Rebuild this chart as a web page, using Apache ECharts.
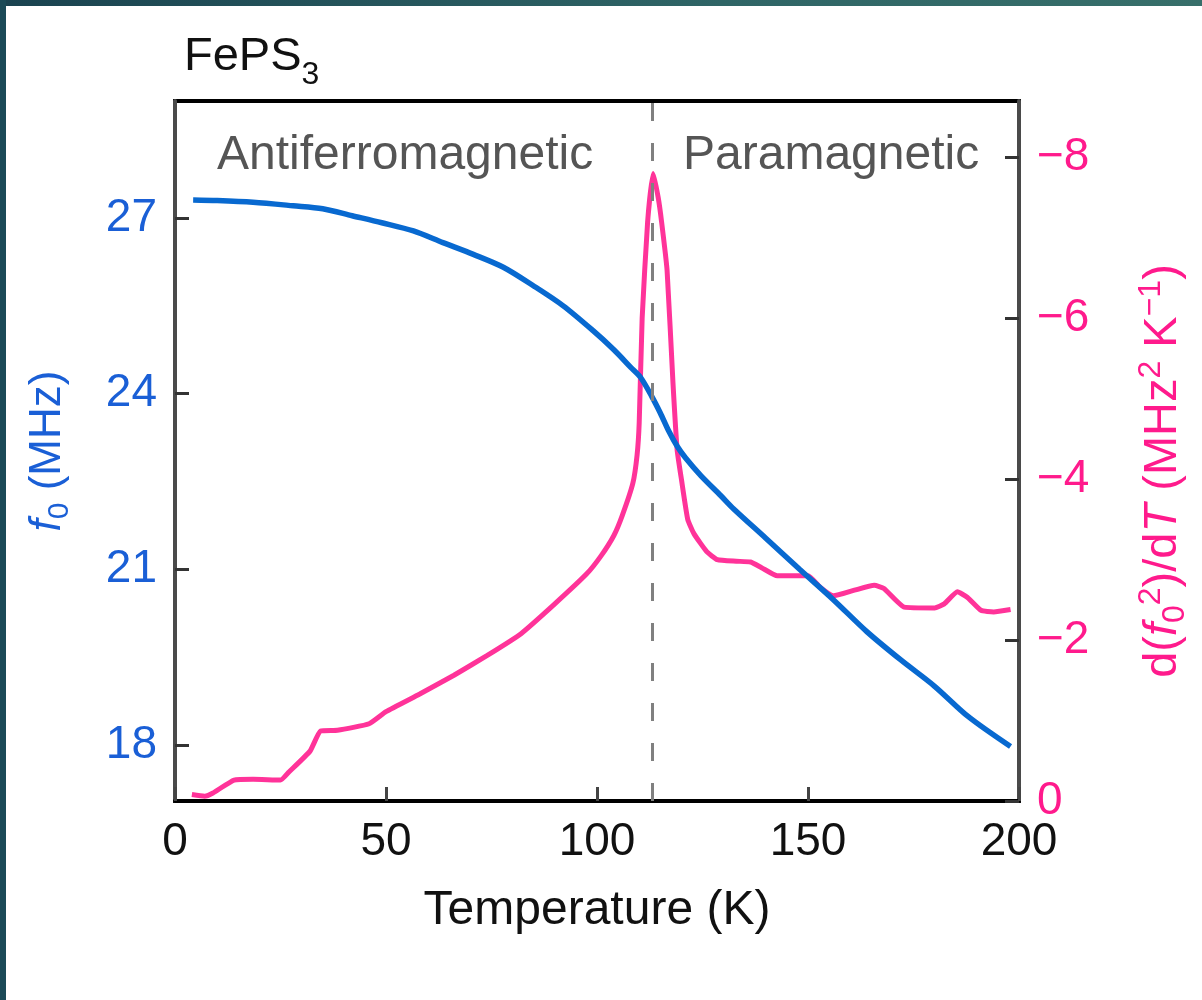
<!DOCTYPE html>
<html>
<head>
<meta charset="utf-8">
<script src="https://cdn.jsdelivr.net/npm/echarts@6/dist/echarts.min.js"></script>
<style>
  html, body { margin: 0; padding: 0; background: #fff; }
  #chart { position: absolute; left: 0; top: 0; width: 1202px; height: 1000px; }
  #topbar { position: absolute; left: 0; top: 0; width: 1202px; height: 6px; background: linear-gradient(to right, #1a4350, #2f6566 60%, #376f6a); }
  #leftbar { position: absolute; left: 0; top: 0; width: 6px; height: 1000px; background: #1b4a57; }
</style>
</head>
<body>
<div id="chart"></div>
<div id="topbar"></div>
<div id="leftbar"></div>
<script>
// Resonance frequency f0 (MHz) vs temperature (K)
const tempF = [4.3, 10, 18.5, 28, 35, 42, 49, 56.5, 63.5, 70.7, 77.8, 85, 92, 99, 104, 108, 110.3, 113, 115, 117, 119, 121, 124.6, 129.3, 132.4, 140, 148, 156, 164, 172, 180, 188, 198];
const freqMHz = [27.31, 27.30, 27.27, 27.21, 27.16, 27.04, 26.92, 26.78, 26.58, 26.38, 26.16, 25.84, 25.50, 25.08, 24.75, 24.45, 24.28, 23.95, 23.67, 23.36, 23.10, 22.90, 22.60, 22.26, 22.03, 21.53, 21.00, 20.48, 19.93, 19.45, 19.00, 18.48, 17.97];

// d(f0^2)/dT (MHz^2 K^-1) vs temperature (K)
const tempD = [4, 7, 9, 14, 18.5, 25, 27, 32, 34.5, 38.5, 46, 50, 58, 66, 74, 82, 90, 97.5, 101, 104, 106, 108.5, 109.5, 110, 110.7, 112, 113.3, 114.5, 115.3, 116.6, 118, 119, 120, 121.5, 123, 126, 128.5, 133, 136.4, 139, 142.7, 150, 153, 156, 161, 165.7, 168, 172.8, 180, 182.3, 185.4, 187.8, 191, 194, 198];
const dF2dT = [-0.08, -0.06, -0.10, -0.26, -0.27, -0.26, -0.36, -0.62, -0.87, -0.88, -0.96, -1.11, -1.33, -1.56, -1.81, -2.08, -2.45, -2.82, -3.05, -3.30, -3.55, -3.95, -4.30, -4.70, -6.00, -7.20, -7.80, -7.50, -7.20, -6.60, -5.20, -4.36, -4.00, -3.50, -3.32, -3.10, -3.00, -2.98, -2.97, -2.90, -2.80, -2.80, -2.65, -2.55, -2.62, -2.68, -2.64, -2.41, -2.40, -2.45, -2.60, -2.53, -2.37, -2.35, -2.38];

// Axis ticks
const xTicks = [0, 50, 100, 150, 200];
const fTicks = [18, 21, 24, 27];
const dTicks = [-8, -6, -4, -2, 0];
const transitionT = 113.2;

const blue = '#0869d0';
const blueText = '#1a5fd6';
const pink = '#ff3399';
const pinkText = '#ff1a8c';
const FONT = 'Liberation Sans, Arial, sans-serif';

const chart = echarts.init(document.getElementById('chart'));

const option = {
  animation: false,
  backgroundColor: '#fff',
  grid: { left: 175, right: 183, top: 101, bottom: 199, show: true, borderColor: '#000', borderWidth: 4, backgroundColor: 'transparent' },
  graphic: [
    { type: 'text', left: 184, top: 34, style: { text: '{m|FePS}{s|3}', rich: { m: { fontSize: 47, fontFamily: FONT, fill: '#111', verticalAlign: 'bottom', lineHeight: 58 }, s: { fontSize: 32, fontFamily: FONT, fill: '#111', verticalAlign: 'bottom', lineHeight: 58, padding: [0,0,-10,0] } } } },
    { type: 'text', left: 217, top: 132, style: { text: 'Antiferromagnetic', fontSize: 48, fontFamily: FONT, fill: '#555' } },
    { type: 'text', left: 683, top: 132, style: { text: 'Paramagnetic', fontSize: 48, fontFamily: FONT, fill: '#555' } }
  ],
  xAxis: {
    type: 'value', min: 0, max: 200, interval: 50,
    name: 'Temperature (K)', nameLocation: 'middle', nameGap: 86,
    nameTextStyle: { fontSize: 48, fontFamily: FONT, color: '#111' },
    axisLine: { show: true, lineStyle: { color: '#000', width: 4 } },
    axisTick: { show: true, inside: true, length: 14, lineStyle: { color: '#444', width: 3 } },
    axisLabel: { fontSize: 46, fontFamily: FONT, color: '#111', margin: 18 },
    splitLine: { show: false }
  },
  yAxis: [
    {
      type: 'value', min: 17.04, max: 29.0, position: 'left',
      name: '{i|f}{sub|0}{n| (MHz)}', nameLocation: 'middle', nameGap: 100, nameRotate: 90,
      nameTextStyle: {
        color: blueText,
        rich: {
          i: { fontSize: 44, fontStyle: 'italic', fontFamily: FONT, color: blueText, lineHeight: 54, verticalAlign: 'middle' },
          sub: { fontSize: 30, fontFamily: FONT, color: blueText, lineHeight: 54, verticalAlign: 'bottom' },
          n: { fontSize: 44, fontFamily: FONT, color: blueText, lineHeight: 54, verticalAlign: 'middle' }
        }
      },
      axisLine: { show: true, lineStyle: { color: '#4a4a4a', width: 4 } },
      axisTick: { show: true, inside: true, length: 14, customValues: fTicks, lineStyle: { color: '#333', width: 3 } },
      axisLabel: { fontSize: 46, fontFamily: FONT, color: blueText, margin: 18, customValues: fTicks },
      splitLine: { show: false }
    },
    {
      type: 'value', min: -8.7, max: 0, inverse: true, position: 'right',
      name: '{n|d(}{i|f}{sub|0}{sup|2}{n|)/d}{i|T}{n| (MHz}{sup|2}{n| K}{sup|\u22121}{n|)}',
      nameLocation: 'middle', nameGap: 116, nameRotate: 90,
      nameTextStyle: {
        color: pinkText,
        padding: [0, 40, 0, 0],
        rich: {
          i: { fontSize: 47, fontStyle: 'italic', fontFamily: FONT, color: pinkText, lineHeight: 56, verticalAlign: 'middle' },
          n: { fontSize: 47, fontFamily: FONT, color: pinkText, lineHeight: 56, verticalAlign: 'middle' },
          sub: { fontSize: 32, fontFamily: FONT, color: pinkText, lineHeight: 56, verticalAlign: 'bottom' },
          sup: { fontSize: 32, fontFamily: FONT, color: pinkText, lineHeight: 56, verticalAlign: 'top' }
        }
      },
      axisLine: { show: true, lineStyle: { color: '#4a4a4a', width: 4 } },
      axisTick: { show: true, inside: true, length: 14, customValues: dTicks, lineStyle: { color: '#333', width: 3 } },
      axisLabel: {
        fontSize: 46, fontFamily: FONT, color: pinkText, margin: 18, customValues: dTicks,
        formatter: v => (v < 0 ? '\u2212' + Math.abs(v) : String(v))
      },
      splitLine: { show: false }
    }
  ],
  series: [
    {
      type: 'line', name: 'f0', yAxisIndex: 0, showSymbol: false, smooth: 0.3,
      data: tempF.map((t, i) => [t, freqMHz[i]]),
      lineStyle: { color: blue, width: 5.5 }, z: 3,
      markLine: {
        silent: true, symbol: 'none', label: { show: false },
        lineStyle: { color: '#808080', type: [18, 22], width: 3 },
        data: [{ xAxis: transitionT }]
      }
    },
    {
      type: 'line', name: 'dF2dT', yAxisIndex: 1, showSymbol: false, smooth: 0.15,
      data: tempD.map((t, i) => [t, dF2dT[i]]),
      lineStyle: { color: pink, width: 5 }, z: 2
    }
  ]
};
chart.setOption(option);
</script>
</body>
</html>
